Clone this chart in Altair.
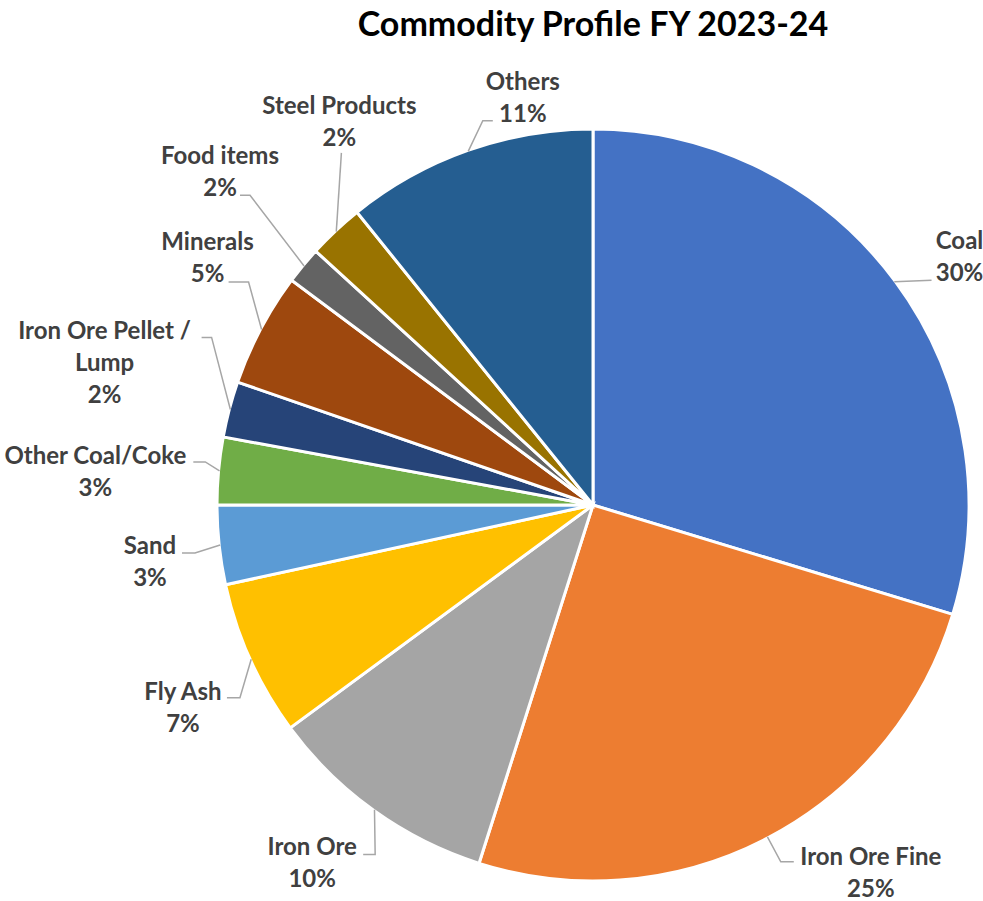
import math
import altair as alt
import pandas as pd

# ---------------- data ----------------
TITLE = "Commodity Profile FY 2023-24"
categories = ["Coal", "Iron Ore Fine", "Iron Ore", "Fly Ash", "Sand", "Other Coal/Coke",
              "Iron Ore Pellet / Lump", "Minerals", "Food items", "Steel Products", "Others"]
shares = [29.7, 25.2, 10.0, 6.7, 3.4, 2.9, 2.4, 4.9, 1.6, 2.4, 10.8]
colors = ["#4472C4", "#ED7D31", "#A5A5A5", "#FFC000", "#5B9BD5", "#70AD47",
          "#264478", "#9E480E", "#636363", "#997300", "#255E91"]

# ---------------- label layout (style) ----------------
R = 375
label_radius = [451, 449, 443, 451, 445, 500, 518, 466, 510, 472, 428]
label_shift_deg = [0.9, -10.5, 3.7, -0.3, 0.7, 0.3, 4.7, 6.3, 3.4, 10.7, 10.0]
leader_end = [(-28, 38), (-77, 4), (51, 7), (44, 5), (32, 6), (98, 5), (97, 5),
              (21, 39), (20, 38), (2, 46), (-30, 38)]
elbow_len = [0, -13, 12, 13, 13, 12, 10, 20, 10, 0, -10]
LINE_H = 32

total = sum(shares)
rows, text_rows, line_rows = [], [], []
cum = 0.0
for i, (cat, v) in enumerate(zip(categories, shares)):
    mid = (cum + v / 2) / total * 2 * math.pi
    cum += v
    rows.append({"idx": i, "cat": cat, "share": v})
    # label anchor (first line center)
    a = mid + math.radians(label_shift_deg[i])
    lx = label_radius[i] * math.sin(a)
    ly = label_radius[i] * math.cos(a)
    lines = cat.replace(" / ", " /\n").split("\n") + [f"{v:.0f}%"]
    for j, t in enumerate(lines):
        text_rows.append({"cat": cat, "line": t, "x": lx, "y": ly - j * LINE_H})
    # leader line: slice edge -> elbow -> label
    sx, sy = R * math.sin(mid), R * math.cos(mid)
    ex, ey = lx + leader_end[i][0], ly - leader_end[i][1]
    bx, by = ex + elbow_len[i], ey
    for k, (px, py) in enumerate([(sx, sy), (bx, by), (ex, ey)]):
        line_rows.append({"cat": cat, "k": k, "x": px, "y": py})

df = pd.DataFrame(rows)
df_text = pd.DataFrame(text_rows)
df_lines = pd.DataFrame(line_rows)

xs = alt.Scale(domain=[-390, 390], nice=False, zero=False)
ys = alt.Scale(domain=[-395, 395], nice=False, zero=False)

pie = alt.Chart(df).mark_arc(outerRadius=376, stroke="white", strokeWidth=3).encode(
    theta=alt.Theta("share:Q", stack=True),
    color=alt.Color("cat:N", scale=alt.Scale(domain=categories, range=colors), legend=None),
    order=alt.Order("idx:Q"),
)

leaders = alt.Chart(df_lines).mark_line(color="#A6A6A6", strokeWidth=1.5).encode(
    x=alt.X("x:Q", scale=xs, axis=None),
    y=alt.Y("y:Q", scale=ys, axis=None),
    detail="cat:N",
    order="k:Q",
)

labels = alt.Chart(df_text).mark_text(
    font="Lato", fontSize=24, fontWeight="bold", color="#404040",
    align="center", baseline="middle",
).encode(
    x=alt.X("x:Q", scale=xs, axis=None),
    y=alt.Y("y:Q", scale=ys, axis=None),
    text="line:N",
)

chart = alt.layer(pie, leaders, labels).properties(
    width=780,
    height=790,
    padding={"left": 203, "top": 110, "right": 0, "bottom": 1},
    autosize=alt.AutoSizeParams(type="none"),
    background="white",
    title=alt.TitleParams(TITLE, font="Lato", fontSize=34, fontWeight="bold",
                          color="black", anchor="middle", frame="group", offset=28),
).configure_view(stroke=None)

chart.save("out.html", embed_options={"renderer": "svg", "actions": False})
